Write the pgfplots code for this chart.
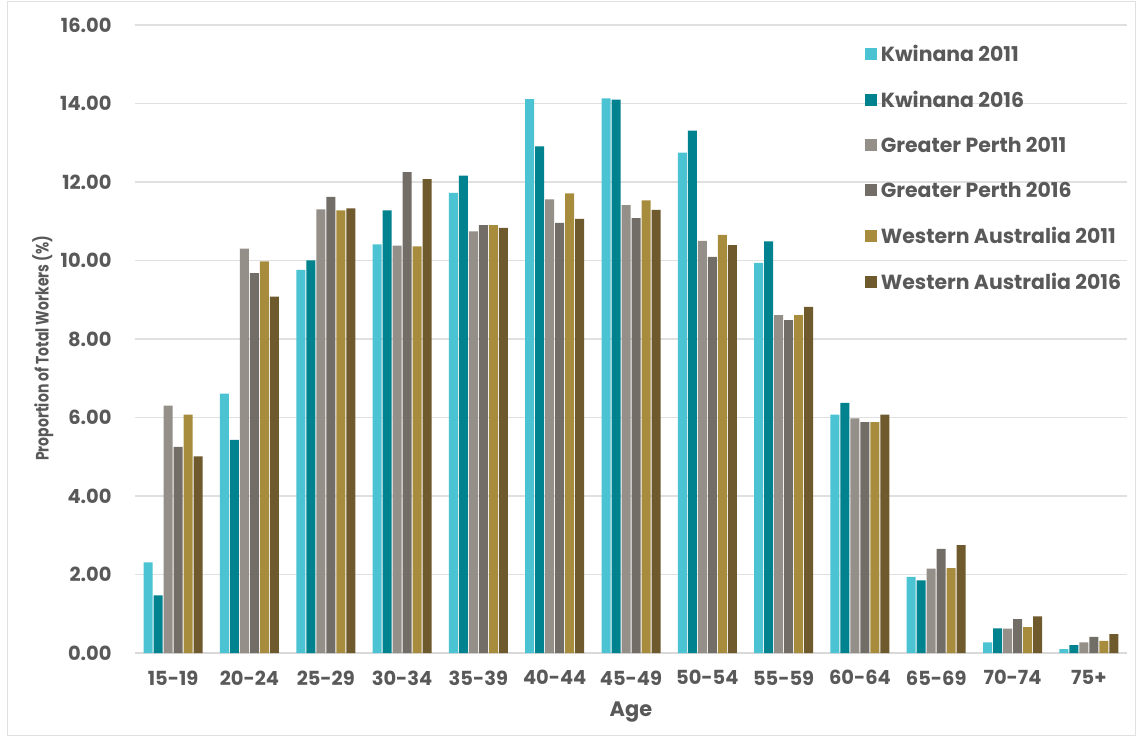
\documentclass[border=0pt]{standalone}
\usepackage{pgfplots}
\usepackage{pgfplotstable}
\pgfplotsset{compat=1.18}
\usetikzlibrary{calc}
\usepackage{fontspec}
\setmainfont{Poppins}
\newfontfamily\condfont{Poppins}[FakeStretch=0.78]
\definecolor{txt}{HTML}{595959}
\definecolor{cK11}{HTML}{4BC3D3}
\definecolor{cK16}{HTML}{00838F}
\definecolor{cGP11}{HTML}{948F88}
\definecolor{cGP16}{HTML}{726D66}
\definecolor{cWA11}{HTML}{A88C3E}
\definecolor{cWA16}{HTML}{6E5A2C}
\pgfplotstableread{
x K11 K16 GP11 GP16 WA11 WA16
0 2.31 1.47 6.30 5.25 6.07 5.01
1 6.61 5.43 10.30 9.68 9.98 9.08
2 9.76 10.00 11.30 11.62 11.28 11.33
3 10.41 11.28 10.38 12.25 10.36 12.07
4 11.72 12.16 10.74 10.90 10.90 10.83
5 14.11 12.91 11.56 10.96 11.71 11.06
6 14.13 14.10 11.41 11.08 11.53 11.29
7 12.75 13.31 10.50 10.09 10.65 10.39
8 9.94 10.49 8.61 8.48 8.61 8.82
9 6.07 6.37 5.98 5.88 5.88 6.07
10 1.94 1.85 2.15 2.65 2.16 2.75
11 0.27 0.63 0.62 0.86 0.66 0.93
12 0.10 0.20 0.27 0.41 0.31 0.48
}\datatable
\begin{document}
\begin{tikzpicture}
\begin{axis}[
  name=ax,
  scale only axis,
  width=992bp, height=628bp,
  ybar=1bp, bar width=9bp,
  xmin=-0.5, xmax=12.5,
  ymin=0, ymax=16,
  ytick={0,2,...,16},
  xtick={0,...,12},
  xticklabels={15-19,20-24,25-29,30-34,35-39,40-44,45-49,50-54,55-59,60-64,65-69,70-74,75+},
  y tick label style={/pgf/number format/fixed, /pgf/number format/fixed zerofill, /pgf/number format/precision=2, xshift=-20bp},
  /pgf/number format/assume math mode=true,
  ticklabel style={font=\fontsize{19.5}{22}\selectfont\bfseries, text=txt},
  ymajorgrids,
  grid style={draw=black!12, line width=1.2bp},
  axis x line=bottom, axis y line=left,
  x axis line style={draw=black!15, line width=1.2bp, -},
  y axis line style={draw=none},
  major tick length=0pt,
  xtick style={draw=none},
  ytick style={draw=none},
  x tick label style={yshift=-14bp},
  xlabel={Age},
  xlabel style={font=\fontsize{21}{24}\selectfont\bfseries, text=txt, yshift=-10bp},
  ylabel={\condfont\bfseries Proportion of Total Workers (\%)},
  ylabel style={font=\fontsize{18}{20}\selectfont, text=txt, at={(ticklabel cs:0.485)}, yshift=0bp},
  legend style={at={(0.736,0.972)}, anchor=north west, draw=none, fill=none,
    font=\fontsize{20.5}{23}\selectfont\bfseries, text=txt,
    row sep=24.3bp, inner sep=0pt,
    nodes={inner xsep=3.5bp}},
  legend cell align=left,
  legend image code/.code={\fill[#1] (0bp,-6bp) rectangle (12bp,6bp);},
  every axis plot/.append style={draw=none},
  clip=false,
]
\addplot[fill=cK11] table[x=x,y=K11]{\datatable};
\addplot[fill=cK16] table[x=x,y=K16]{\datatable};
\addplot[fill=cGP11] table[x=x,y=GP11]{\datatable};
\addplot[fill=cGP16] table[x=x,y=GP16]{\datatable};
\addplot[fill=cWA11] table[x=x,y=WA11]{\datatable};
\addplot[fill=cWA16] table[x=x,y=WA16]{\datatable};
\legend{Kwinana 2011,Kwinana 2016,Greater Perth 2011,Greater Perth 2016,Western Australia 2011,Western Australia 2016}
\end{axis}
\path[use as bounding box] ($(ax.south west)+(-135bp,-85bp)$) rectangle ($(ax.south west)+(1003bp,653bp)$);
\draw[black!12, line width=1bp] ($(ax.south west)+(-127bp,-82bp)$) rectangle ($(ax.south west)+(1000bp,651bp)$);
\end{tikzpicture}
\end{document}
